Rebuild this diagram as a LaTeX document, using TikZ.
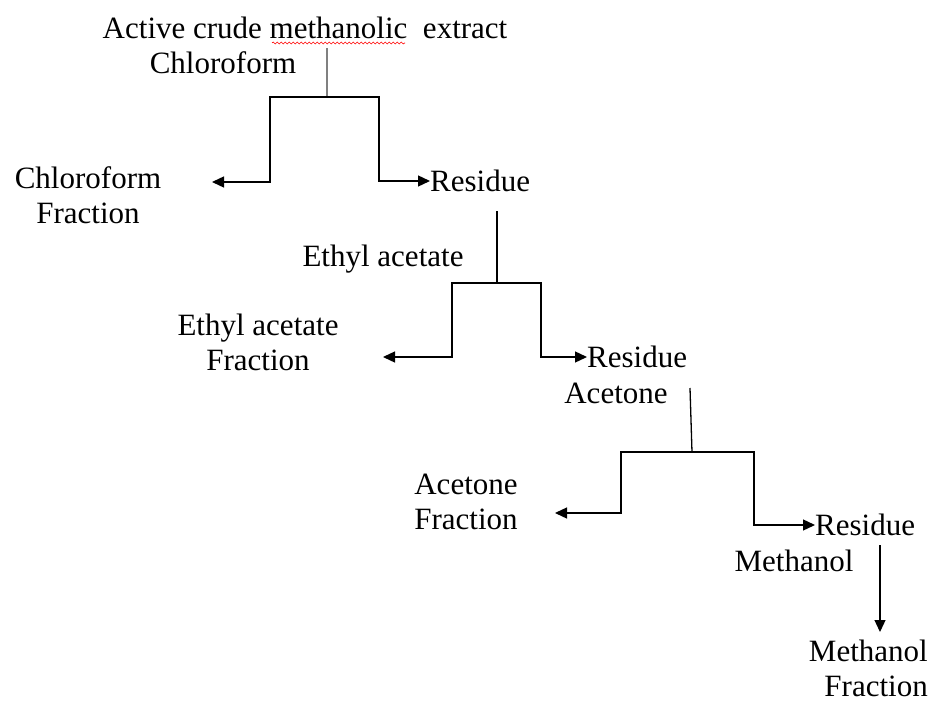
\documentclass[tikz,border=0pt]{standalone}
\usepackage{fontspec}
\setmainfont{Liberation Serif}
\usetikzlibrary{arrows.meta,decorations.pathmorphing}
\begin{document}
\begin{tikzpicture}[x=1pt,y=-1pt,
  lbl/.style={inner sep=0pt, font=\fontsize{31}{35}\selectfont, align=center},
  conn/.style={line width=1.3pt, black},
  arr/.style={conn, -{Triangle[length=12pt,width=11pt]}},
  feed/.style={line width=1.3pt, black!50},
  spell/.style={red, line width=0.6pt, decorate, decoration={snake, amplitude=1pt, segment length=4pt}}]
\useasboundingbox (0,0) rectangle (930,701);

% texts
\node[lbl] (top) at (305,28) {Active crude methanolic~ extract};
\node[lbl] (s1) at (223,63) {Chloroform};
\node[lbl] (f1) at (88,195) {Chloroform\\Fraction};
\node[lbl,anchor=west] (r1) at (430,181) {Residue};
\node[lbl] (s2) at (383,259) {Ethyl acetate};
\node[lbl] (f2) at (258,342) {Ethyl acetate\\Fraction};
\node[lbl,anchor=west] (r2) at (587,357) {Residue};
\node[lbl] (s3) at (616,393) {Acetone};
\node[lbl] (f3) at (466,502) {Acetone\\Fraction};
\node[lbl,anchor=west] (r3) at (815,525) {Residue};
\node[lbl] (s4) at (794,561) {Methanol};
\node[lbl,align=right,anchor=east] (f4) at (928,668) {Methanol\\Fraction};

% spell-check underline
\coordinate (u1) at (272,43);
\coordinate (u2) at (405,43);
\draw[spell] (u1) -- (u2);

% branch 1
\coordinate (t1) at (327,48);
\coordinate (j1) at (327,97);
\coordinate (l1) at (270,97);
\coordinate (q1) at (379,97);
\coordinate (e1) at (212,182);
\draw[feed] (t1) -- (j1);
\draw[arr] (j1) -- (l1) |- (e1);
\draw[arr] (j1) -- (q1) |- (r1.west);

% branch 2
\coordinate (t2) at (497,211);
\coordinate (j2) at (497,283);
\coordinate (l2) at (452,283);
\coordinate (q2) at (541,283);
\coordinate (e2) at (383,357);
\draw[conn] (t2) -- (j2);
\draw[arr] (j2) -- (l2) |- (e2);
\draw[arr] (j2) -- (q2) |- (r2.west);

% branch 3
\coordinate (t3) at (690,388);
\coordinate (j3) at (692,452);
\coordinate (l3) at (621,452);
\coordinate (q3) at (754,452);
\coordinate (e3) at (555,513);
\draw[conn] (t3) -- (j3);
\draw[arr] (j3) -- (l3) |- (e3);
\draw[arr] (j3) -- (q3) |- (r3.west);

% branch 4
\coordinate (t4) at (880,545);
\coordinate (e4) at (880,632);
\draw[arr] (t4) -- (e4);
\end{tikzpicture}
\end{document}
